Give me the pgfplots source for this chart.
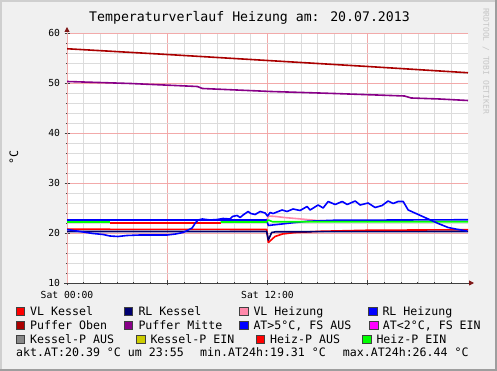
\documentclass[border=0pt]{standalone}
\usepackage{fontspec}
\setmainfont{DejaVu Sans Mono}
\usepackage{pgfplots}
\pgfplotsset{compat=1.18}
\usetikzlibrary{arrows.meta}
\definecolor{bgc}{HTML}{F0F0F0}
\definecolor{shadeA}{HTML}{CFCFCF}
\definecolor{shadeB}{HTML}{9E9E9E}
\definecolor{majorred}{HTML}{F2AAAA}
\definecolor{minorgray}{HTML}{DCDCDC}
\definecolor{axisgray}{HTML}{404040}
\definecolor{arrowred}{HTML}{801818}
\definecolor{cVLK}{HTML}{FF0000}
\definecolor{cRLK}{HTML}{000070}
\definecolor{cVLH}{HTML}{FF88AA}
\definecolor{cRLH}{HTML}{0000FF}
\definecolor{cPO}{HTML}{AA0000}
\definecolor{cPM}{HTML}{880088}
\definecolor{cAT5}{HTML}{0000FF}
\definecolor{cAT2}{HTML}{FF00FF}
\definecolor{cKPA}{HTML}{888888}
\definecolor{cKPE}{HTML}{CCCC00}
\definecolor{cHPA}{HTML}{FF0000}
\definecolor{cHPE}{HTML}{00FF00}
\newcommand{\legfont}{\fontsize{11.6}{13}\selectfont}
\newcommand{\tickfont}{\fontsize{9.7}{11}\selectfont}
\begin{document}
\begin{tikzpicture}[x=1pt,y=1pt]
\fill[bgc] (0,0) rectangle (497,371);
\useasboundingbox (0,0) rectangle (497,371);
\draw[shadeA, line width=2pt] (1,0) -- (1,370) -- (497,370);
\draw[shadeB, line width=2pt] (0,1) -- (496,1) -- (496,371);
\node[anchor=base, inner sep=0, font=\fontsize{13.2}{15}\selectfont] at (249.5,349) {Temperaturverlauf Heizung am: 20.07.2013};
\node[rotate=-90, inner sep=0, text=black!22, font=\fontsize{8}{9}\selectfont] at (486,310) {RRDTOOL / TOBI OETIKER};
\node[rotate=90, inner sep=0, font=\legfont] at (14,213) {°C};
\begin{axis}[
  at={(67pt,88pt)}, anchor=south west,
  scale only axis, width=401pt, height=250pt,
  xmin=0, xmax=24, ymin=10, ymax=60,
  axis background/.style={fill=white},
  axis x line*=bottom, axis y line*=left,
  x axis line style={draw=axisgray, line width=0.9pt, shorten >=-6pt, shorten <=-3pt, -{Triangle[length=5pt,width=5pt,color=arrowred]}},
  y axis line style={draw=majorred, line width=0.9pt, shorten >=-6pt, -{Triangle[length=5pt,width=5pt,color=arrowred]}},
  xtick={0,6,12,18}, xticklabels={Sat 00:00,,Sat 12:00,},
  minor xtick={1,2,3,4,5,7,8,9,10,11,13,14,15,16,17,19,20,21,22,23},
  ytick={10,20,30,40,50,60},
  minor ytick={12,14,16,18,22,24,26,28,32,34,36,38,42,44,46,48,52,54,56,58},
  grid=both,
  major grid style={draw=majorred, line width=0.7pt},
  minor grid style={draw=minorgray, line width=0.7pt},
  tick align=center,
  major tick length=5pt, minor tick length=2pt,
  every tick/.style={draw=axisgray, line width=0.8pt},
  /pgf/number format/assume math mode=true,
  xticklabel style={font=\tickfont, yshift=-2pt},
  yticklabel style={font=\tickfont, xshift=-1pt},
  line join=round,
]
% VL Heizung
\addplot[cVLH, line width=1.6pt] coordinates {(11.95,22.4) (12.05,23.4) (12.5,23.3) (13,23.1) (14,22.8) (15,22.5) (16,22.4)};
% RL Heizung
\addplot[cRLH, line width=1.6pt] coordinates {(0,22.6) (11.95,22.6) (12.05,21.5) (12.3,21.6) (13,21.85) (13.5,22.05) (14.4,22.35) (16,22.55) (24,22.65)};
% Heiz-P status
\addplot[cHPE, line width=1.6pt] coordinates {(0,22.2) (2.6,22.2)};
\addplot[cHPA, line width=1.6pt] coordinates {(2.6,22.05) (9.2,22.05)};
\addplot[cHPE, line width=1.6pt] coordinates {(9.2,22.2) (11.95,22.2) (12.05,22.6) (12.3,22.25) (24,22.25)};
% VL Kessel
\addplot[cVLK, line width=1.6pt] coordinates {(0,20.75) (11.95,20.7) (12.05,18.1) (12.45,19.3) (12.9,19.8) (13.65,20.1) (15.25,20.35) (18,20.55) (24,20.65)};
% RL Kessel
\addplot[cRLK, line width=1.6pt] coordinates {(0,20.3) (11.95,20.3) (12.05,18.6) (12.25,20.1) (12.5,20.25) (24,20.3)};
% Puffer Oben
\addplot[cPO, line width=1.6pt] coordinates {(0,56.85) (6,55.7) (12,54.5) (18,53.3) (24,52.05)};
% Puffer Mitte
\addplot[cPM, line width=1.6pt] coordinates {(0,50.3) (3.8,49.9) (7.8,49.3) (8.1,48.9) (12.2,48.3) (16,47.9) (20.2,47.4) (20.6,47.0) (22.3,46.8) (24,46.5)};
% AT
\addplot[cAT5, line width=1.6pt] coordinates {
(0,20.7) (0.78,20.3) (1.56,19.9) (2.16,19.7) (2.57,19.4) (3.05,19.3) (3.59,19.5) (4.37,19.6) (5.15,19.6) (5.99,19.6) (6.5,19.8) (6.95,20.1) (7.49,21.0) (7.66,21.9) (7.84,22.6) (8.1,22.8) (8.56,22.6) (9.0,22.7) (9.34,22.9) (9.76,22.8) (9.9,23.3) (10.18,23.5) (10.36,23.1) (10.54,23.6) (10.84,24.3) (11.0,23.9) (11.26,23.7) (11.56,24.3) (11.86,24.0) (12.0,23.4) (12.16,24.1) (12.34,23.9) (12.87,24.6) (13.17,24.3) (13.53,24.8) (13.95,24.5) (14.37,25.3) (14.55,24.6) (15.03,25.6) (15.33,25.0) (15.63,26.3) (16.05,25.7) (16.47,26.3) (16.77,25.7) (17.25,26.4) (17.54,25.6) (18.02,26.0) (18.44,25.1) (18.86,25.5) (19.22,26.4) (19.52,25.9) (19.82,26.3) (20.12,26.3) (20.42,24.6) (21.02,23.7) (21.62,22.8) (22.22,21.9) (22.81,21.1) (23.41,20.7) (23.95,20.4)};
\end{axis}
% legend
\tikzset{sw/.style={line width=0.6pt, draw=black!75}}
\filldraw[sw, fill=cVLK] (16,55.7) rectangle ++(8.5,8);
\node[anchor=base west, inner sep=0, font=\legfont] at (30,55.7) {VL Kessel};
\filldraw[sw, fill=cRLK] (124,55.7) rectangle ++(8.5,8);
\node[anchor=base west, inner sep=0, font=\legfont] at (138.3,55.7) {RL Kessel};
\filldraw[sw, fill=cVLH] (239.3,55.7) rectangle ++(8.5,8);
\node[anchor=base west, inner sep=0, font=\legfont] at (253.3,55.7) {VL Heizung};
\filldraw[sw, fill=cRLH] (368.3,55.7) rectangle ++(8.5,8);
\node[anchor=base west, inner sep=0, font=\legfont] at (382.3,55.7) {RL Heizung};
\filldraw[sw, fill=cPO] (16,41.7) rectangle ++(8.5,8);
\node[anchor=base west, inner sep=0, font=\legfont] at (30,41.7) {Puffer Oben};
\filldraw[sw, fill=cPM] (124,41.7) rectangle ++(8.5,8);
\node[anchor=base west, inner sep=0, font=\legfont] at (138.3,41.7) {Puffer Mitte};
\filldraw[sw, fill=cAT5] (239.3,41.7) rectangle ++(8.5,8);
\node[anchor=base west, inner sep=0, font=\legfont] at (253.3,41.7) {AT>5°C, FS AUS};
\filldraw[sw, fill=cAT2] (369.5,41.7) rectangle ++(8.5,8);
\node[anchor=base west, inner sep=0, font=\legfont] at (382.7,41.7) {AT<2°C, FS EIN};
\filldraw[sw, fill=cKPA] (16,27.7) rectangle ++(8.5,8);
\node[anchor=base west, inner sep=0, font=\legfont] at (30,27.7) {Kessel-P AUS};
\filldraw[sw, fill=cKPE] (136.7,27.7) rectangle ++(8.5,8);
\node[anchor=base west, inner sep=0, font=\legfont] at (150.3,27.7) {Kessel-P EIN};
\filldraw[sw, fill=cHPA] (256,27.7) rectangle ++(8.5,8);
\node[anchor=base west, inner sep=0, font=\legfont] at (270,27.7) {Heiz-P AUS};
\filldraw[sw, fill=cHPE] (362.3,27.7) rectangle ++(8.5,8);
\node[anchor=base west, inner sep=0, font=\legfont] at (376.3,27.7) {Heiz-P EIN};
\node[anchor=base west, inner sep=0, font=\legfont] at (16,14.3) {akt.AT:20.39 °C um 23:55};
\node[anchor=base west, inner sep=0, font=\legfont] at (200,14.3) {min.AT24h:19.31 °C};
\node[anchor=base west, inner sep=0, font=\legfont] at (342.7,14.3) {max.AT24h:26.44 °C};
\end{tikzpicture}
\end{document}
